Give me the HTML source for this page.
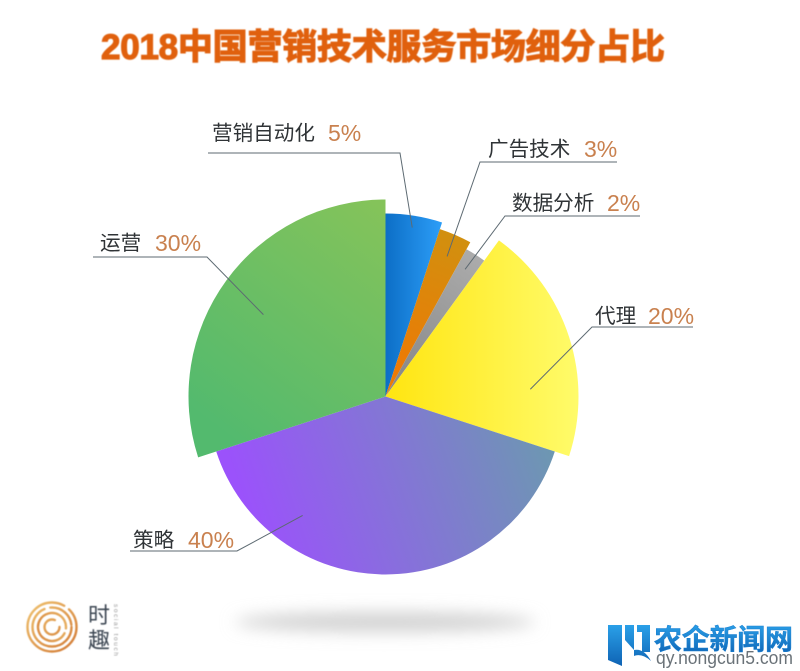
<!DOCTYPE html>
<html lang="zh">
<head>
<meta charset="utf-8">
<title>2018中国营销技术服务市场细分占比</title>
<style>
html,body{margin:0;padding:0;background:#fff;}
svg{display:block;}
text{font-family:"Liberation Sans","Noto Sans CJK SC",sans-serif;}
</style>
</head>
<body>
<svg id="chart" xmlns="http://www.w3.org/2000/svg" width="800" height="671" viewBox="0 0 800 671">
  <defs>
    <linearGradient id="g0" gradientUnits="userSpaceOnUse" x1="385" y1="0" x2="440" y2="0"><stop offset="0" stop-color="#0c6ec6"/><stop offset="1" stop-color="#2b9cf6"/></linearGradient>
    <linearGradient id="g1" gradientUnits="userSpaceOnUse" x1="400" y1="370" x2="460" y2="235"><stop offset="0" stop-color="#ec7a05"/><stop offset="1" stop-color="#d1900f"/></linearGradient>
    <linearGradient id="g2" gradientUnits="userSpaceOnUse" x1="400" y1="370" x2="480" y2="255"><stop offset="0" stop-color="#8b8b8b"/><stop offset="1" stop-color="#acacac"/></linearGradient>
    <linearGradient id="g3" gradientUnits="userSpaceOnUse" x1="385" y1="0" x2="578" y2="0"><stop offset="0" stop-color="#ffe510"/><stop offset="1" stop-color="#fffb6a"/></linearGradient>
    <linearGradient id="g4" gradientUnits="userSpaceOnUse" x1="250" y1="520" x2="540" y2="420"><stop offset="0" stop-color="#9b52fb"/><stop offset="1" stop-color="#6d97b2"/></linearGradient>
    <linearGradient id="g5" gradientUnits="userSpaceOnUse" x1="220" y1="430" x2="385" y2="210"><stop offset="0" stop-color="#53ba6e"/><stop offset="1" stop-color="#84c35a"/></linearGradient>
    <linearGradient id="wm" x1="0" y1="0" x2="0" y2="1"><stop offset="0" stop-color="#2aa0e8"/><stop offset="1" stop-color="#0f63b4"/></linearGradient>
    <linearGradient id="logoG" gradientUnits="userSpaceOnUse" x1="30" y1="603" x2="76" y2="650"><stop offset="0" stop-color="#eec06e"/><stop offset="1" stop-color="#d27a35"/></linearGradient>
    <filter id="soft" x="-30%" y="-200%" width="160%" height="500%"><feGaussianBlur stdDeviation="8"/></filter>
    <filter id="tinyblur"><feGaussianBlur stdDeviation="0.4"/></filter>
  </defs>

  <text x="101" y="59" font-size="35" font-weight="700" fill="#e0610f" stroke="#e0610f" stroke-width="1.2" textLength="564" lengthAdjust="spacing" filter="url(#tinyblur)">2018中国营销技术服务市场细分占比</text>

  <ellipse cx="385" cy="622" rx="150" ry="10" fill="#d2d2d2" filter="url(#soft)"/>

  <g id="slices"></g>
  <g id="leaders"></g>
  <g id="labels"></g>

  <g filter="url(#tinyblur)">
    <g fill="none" stroke="url(#logoG)" stroke-width="2.4" stroke-linecap="round">
      <circle cx="52" cy="627" r="24.5" stroke-dasharray="128 6 20 100"/>
      <circle cx="52" cy="627" r="19.5" stroke-dasharray="84 6 30 100"/>
      <circle cx="52" cy="627" r="14" stroke-dasharray="60 5 22 100" transform="rotate(120 52 627)"/>
      <circle cx="52" cy="627" r="7.5" stroke-dasharray="38 9"/>
    </g>
    <text x="88" y="623" font-size="22" fill="#3c4652">时</text>
    <text x="88" y="648" font-size="22" fill="#3c4652">趣</text>
    <text transform="translate(114,604) rotate(90)" font-size="6.5" letter-spacing="1.6" fill="#9a9a9a">social touch</text>
  </g>

  <g>
    <path d="M608 625 H622 V666 L608 660 Z M625 625 L634 625 L634 650 L625 640 Z M637 625 H650 V652 H642 V632 H637 Z M634 650 Q644 648 651 661 Q642 653 634 656 Z" fill="url(#wm)"/>
    <text x="654" y="649" font-size="28" font-weight="700" fill="url(#wm)" stroke="#1a7fd0" stroke-width="0.5" textLength="139" lengthAdjust="spacing">农企新闻网</text>
    <text x="656" y="664" font-size="18" fill="#6a7278" textLength="137" lengthAdjust="spacingAndGlyphs">qy.nongcun5.com</text>
  </g>
</svg>

<script>
// Chart data
const categories = ['营销自动化', '广告技术', '数据分析', '代理', '策略', '运营'];
const shareValues = [5, 3, 2, 20, 40, 30];

// Drawing configuration
const centerX = 385.5;
const centerY = 396.5;
const sliceOuterRadius = [183, 176, 168, 193, 178, 197];
const sliceNames = ['automation', 'adtech', 'data-analysis', 'agency', 'strategy', 'operations'];
const leaderPlacement = [
  { anchorAt: 0.50, anchorR: 171, elbowX: 400, elbowY: 153, endX: 208, textX: 212, textY: 140, pctX: 328 },
  { anchorAt: 0.53, anchorR: 153, elbowX: 480, elbowY: 162, endX: 617, textX: 488, textY: 156, pctX: 584 },
  { anchorAt: 0.45, anchorR: 150, elbowX: 505, elbowY: 216, endX: 640, textX: 512, textY: 210, pctX: 607 },
  { anchorAt: 0.71, anchorR: 145, elbowX: 592, elbowY: 327, endX: 693, textX: 595, textY: 323, pctX: 648 },
  { anchorAt: 0.742, anchorR: 145, elbowX: 237, elbowY: 551, endX: 130, textX: 133, textY: 547, pctX: 188 },
  { anchorAt: 0.48, anchorR: 147, elbowX: 207, elbowY: 257, endX: 93, textX: 100, textY: 250, pctX: 155 }
];

const svgNS = 'http://www.w3.org/2000/svg';
const total = shareValues.reduce(function (a, b) { return a + b; }, 0);

function angleOf(cumulative) { return cumulative / total * Math.PI * 2; }
function px(angle, r) { return centerX + r * Math.sin(angle); }
function py(angle, r) { return centerY - r * Math.cos(angle); }

const slicesGroup = document.getElementById('slices');
const leadersGroup = document.getElementById('leaders');
const labelsGroup = document.getElementById('labels');

let running = 0;
shareValues.forEach(function (value, i) {
  const a0 = angleOf(running);
  const a1 = angleOf(running + value);
  running += value;
  const r = sliceOuterRadius[i];
  const large = (a1 - a0) > Math.PI ? 1 : 0;

  const slice = document.createElementNS(svgNS, 'path');
  slice.setAttribute('d', 'M' + centerX + ' ' + centerY + ' L' + px(a0, r) + ' ' + py(a0, r) +
    ' A' + r + ' ' + r + ' 0 ' + large + ' 1 ' + px(a1, r) + ' ' + py(a1, r) + ' Z');
  slice.setAttribute('fill', 'url(#g' + i + ')');
  
  
  slicesGroup.appendChild(slice);

  const place = leaderPlacement[i];
  const anchorAngle = a0 + (a1 - a0) * place.anchorAt;
  const leader = document.createElementNS(svgNS, 'polyline');
  leader.setAttribute('points', px(anchorAngle, place.anchorR) + ',' + py(anchorAngle, place.anchorR) +
    ' ' + place.elbowX + ',' + place.elbowY + ' ' + place.endX + ',' + place.elbowY);
  leader.setAttribute('fill', 'none');
  leader.setAttribute('stroke', '#5d6a72');
  leader.setAttribute('stroke-width', '1');
  
  
  leadersGroup.appendChild(leader);

  const nameText = document.createElementNS(svgNS, 'text');
  nameText.setAttribute('x', place.textX);
  nameText.setAttribute('y', place.textY);
  nameText.setAttribute('font-size', '20.6');
  nameText.setAttribute('fill', '#2f3336');
  nameText.textContent = categories[i];
  
  
  labelsGroup.appendChild(nameText);

  const pctText = document.createElementNS(svgNS, 'text');
  pctText.setAttribute('x', place.pctX);
  pctText.setAttribute('y', place.textY + 1);
  pctText.setAttribute('font-size', '23');
  pctText.setAttribute('fill', '#c9814f');
  pctText.textContent = value + '%';
  
  
  labelsGroup.appendChild(pctText);
});
</script>
</body>
</html>
